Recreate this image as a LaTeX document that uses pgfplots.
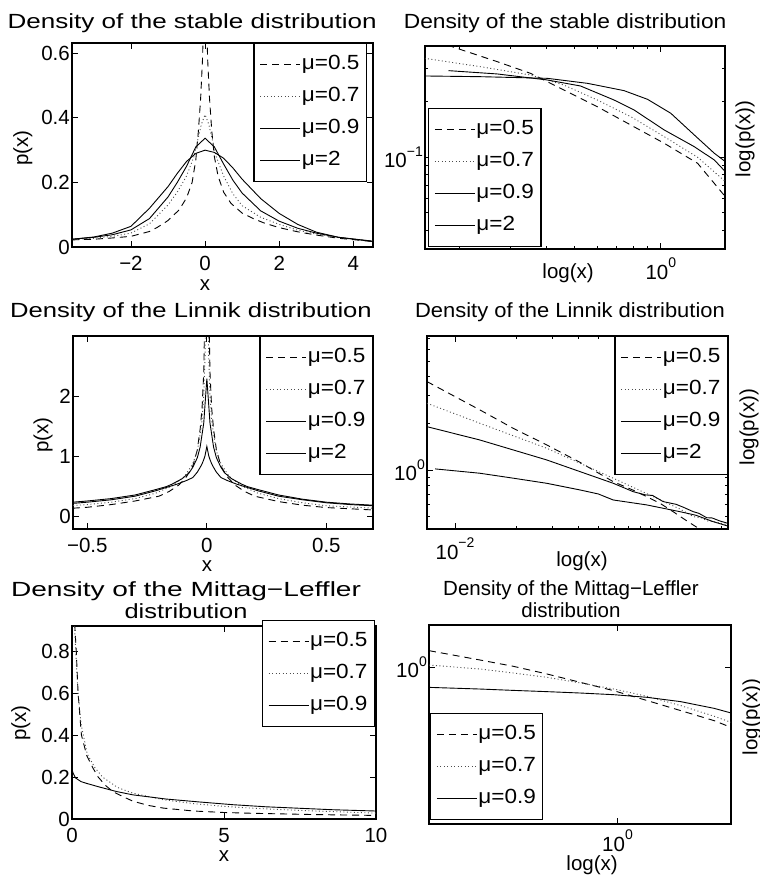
\documentclass[border=0pt]{standalone}
\usepackage{fontspec}
\setmainfont{Liberation Sans}
\newfontfamily\tA[FakeStretch=1.27]{Liberation Sans}
\newfontfamily\tB[FakeStretch=1.11]{Liberation Sans}
\newfontfamily\tC[FakeStretch=1.25]{Liberation Sans}
\newfontfamily\tD[FakeStretch=1.07]{Liberation Sans}
\newfontfamily\tE[FakeStretch=1.37]{Liberation Sans}
\newfontfamily\tL[FakeStretch=1.24]{Liberation Sans}
\newfontfamily\legfont[FakeStretch=1.1]{Liberation Sans}
\usepackage{pgfplots}
\pgfplotsset{compat=1.18}

\newcommand\fs{\fontsize{20.5}{22}\selectfont}
\newcommand\sps[1]{\raisebox{0.55em}{\fontsize{14}{14}\selectfont #1}}

\pgfplotsset{
  mat/.style={
    scale only axis, anchor=south west,
    axis line style={line width=1.1pt},
    tick style={black, line width=0.8pt},
    tick align=inside, tick pos=both,
    major tick length=6pt, minor tick length=3pt,
    tick label style={font=\fs, inner sep=2pt},
    xticklabel style={yshift=-7pt},
    every axis title/.style={inner sep=0pt, anchor=base},
    label style={font=\fs, inner sep=0pt},
    legend style={draw=black, line width=1.1pt, font=\legfont\fs,
      inner xsep=6pt, inner ysep=11pt, row sep=12pt,
      nodes={inner sep=1pt, text height=14pt, text depth=4pt}},
    legend cell align=left,
    legend image code/.code={\draw[#1, line width=0.9pt] (0pt,0pt) -- (40pt,0pt);},
  },
  m05/.style={black, line width=0.9pt, dash pattern=on 7pt off 5pt},
  m07/.style={black!70, line width=0.9pt, dash pattern=on 1pt off 2.5pt},
  m09/.style={black, line width=0.9pt},
  m2/.style={black, line width=0.9pt},
}

\begin{document}
\begin{tikzpicture}
\path[use as bounding box] (0pt,0pt) rectangle (760pt,884pt);

% ---------- stable, linear ----------
\begin{axis}[mat, at={(72pt,637pt)}, width=301pt, height=204pt,
  xmin=-3.59, xmax=4.53, ymin=0, ymax=0.632,
  xtick={-2,0,2,4}, xticklabels={−2,0,2,4},
  ytick={0,0.2,0.4,0.6}, yticklabels={0,0.2,0.4,0.6},
  title={Density of the stable distribution},
  title style={font=\tA\fs, at={(axis description cs:0.399,1.072)}},
  xlabel={x}, xlabel style={at={(axis description cs:0.442,-0.211)}, anchor=base},
  ylabel={p(x)}, ylabel style={at={(axis description cs:-0.163,0.485)}, anchor=center},
  legend style={at={(0.98,1)}, anchor=north east},
]
\addplot[m05] coordinates {(-3.59,0.022) (-3,0.024) (-2.5,0.028) (-2,0.033) (-1.5,0.048) (-1.3,0.06) (-1,0.082) (-0.7,0.115) (-0.5,0.152) (-0.35,0.2) (-0.25,0.27) (-0.18,0.36) (-0.12,0.46) (-0.07,0.58) (-0.04,0.7) (0,1.0) (0.04,0.7) (0.07,0.58) (0.12,0.46) (0.18,0.36) (0.25,0.28) (0.35,0.22) (0.5,0.17) (0.7,0.135) (1,0.105) (1.3,0.088) (1.6,0.074) (2,0.06) (2.5,0.047) (3,0.037) (3.6,0.027) (4.53,0.017)};
\addlegendentry{μ=0.5}
\addplot[m07] coordinates {(-3.59,0.023) (-3,0.027) (-2.5,0.033) (-2,0.043) (-1.5,0.072) (-1,0.13) (-0.75,0.17) (-0.5,0.22) (-0.3,0.28) (-0.2,0.33) (-0.1,0.38) (0,0.41) (0.1,0.38) (0.2,0.33) (0.3,0.28) (0.5,0.22) (0.75,0.165) (1,0.128) (1.5,0.092) (2,0.07) (2.5,0.052) (3,0.04) (3.6,0.029) (4.53,0.018)};
\addlegendentry{μ=0.7}
\addplot[m09] coordinates {(-3.59,0.024) (-3,0.03) (-2.5,0.038) (-2,0.053) (-1.5,0.088) (-1,0.155) (-0.75,0.2) (-0.5,0.25) (-0.25,0.31) (0,0.337) (0.25,0.31) (0.5,0.257) (0.75,0.207) (1,0.167) (1.5,0.112) (2,0.08) (2.5,0.058) (3,0.043) (3.6,0.03) (4.53,0.018)};
\addlegendentry{μ=0.9}
\addplot[m2] coordinates {(-3.59,0.024) (-3,0.031) (-2.5,0.043) (-2,0.064) (-1.5,0.12) (-1,0.187) (-0.75,0.228) (-0.5,0.265) (-0.25,0.29) (0,0.3) (0.25,0.293) (0.5,0.275) (0.75,0.245) (1,0.21) (1.5,0.15) (2,0.104) (2.5,0.07) (3,0.046) (3.6,0.03) (4.53,0.017)};
\addlegendentry{μ=2}
\end{axis}

% ---------- stable, log-log ----------
\begin{axis}[mat, at={(425pt,635pt)}, width=300pt, height=203pt,
  xmode=log, ymode=log,
  xmin=0.1516, xmax=1.671, ymin=0.0318, ymax=0.398,
  xtick={1}, xticklabels={10\sps{0}},
  ytick={0.1}, yticklabels={10\sps{−1}},
  minor xtick={0.2,0.3,0.4,0.5,0.6,0.7,0.8,0.9},
  minor ytick={0.04,0.05,0.06,0.07,0.08,0.09,0.2,0.3},
  title={Density of the stable distribution},
  title style={font=\tB\fs, at={(axis description cs:0.467,1.087)}},
  xlabel={log(x)}, xlabel style={at={(axis description cs:0.477,-0.143)}, anchor=base},
  ylabel={log(p(x))}, ylabel style={at={(axis description cs:1.067,0.542)}, anchor=center},
  legend style={at={(0.01,0.01)}, anchor=south west},
]
\addplot[m05] coordinates {(0.151,0.442) (0.27,0.3275) (0.352,0.2834) (0.46,0.2302) (0.601,0.1871) (0.786,0.1489) (1.027,0.1186) (1.342,0.0924) (1.675,0.061)};
\addlegendentry{μ=0.5}
\addplot[m07] coordinates {(0.151,0.3414) (0.236,0.3076) (0.352,0.2774) (0.46,0.2449) (0.601,0.2033) (0.786,0.1652) (1.027,0.1288) (1.342,0.0996) (1.675,0.0736)};
\addlegendentry{μ=0.7}
\addplot[m09] coordinates {(0.183,0.2928) (0.27,0.281) (0.403,0.2607) (0.526,0.2419) (0.687,0.2033) (0.807,0.1795) (1.027,0.14) (1.306,0.1137) (1.534,0.0963) (1.675,0.0833)};
\addlegendentry{μ=0.9}
\addplot[m2] coordinates {(0.151,0.274) (0.236,0.2716) (0.403,0.2661) (0.556,0.25) (0.745,0.2283) (0.899,0.2049) (1.083,0.1722) (1.306,0.1316) (1.534,0.1047) (1.675,0.0944)};
\addlegendentry{μ=2}
\end{axis}

% ---------- Linnik, linear ----------
\begin{axis}[mat, at={(73pt,355pt)}, width=300pt, height=193pt,
  xmin=-0.56, xmax=0.695, ymin=-0.217, ymax=3.0,
  xtick={-0.5,0,0.5}, xticklabels={−0.5,0,0.5},
  ytick={0,1,2}, yticklabels={0,1,2},
  title={Density of the Linnik distribution},
  title style={font=\tC\fs, at={(axis description cs:0.393,1.095)}},
  xlabel={x}, xlabel style={at={(axis description cs:0.447,-0.221)}, anchor=base},
  ylabel={p(x)}, ylabel style={at={(axis description cs:-0.1,0.487)}, anchor=center},
  legend style={at={(1,1)}, anchor=north east},
]
\addplot[m05] coordinates {(-0.56,0.13) (-0.5,0.145) (-0.4,0.19) (-0.3,0.25) (-0.2,0.33) (-0.157,0.41) (-0.116,0.52) (-0.086,0.65) (-0.059,0.83) (-0.04,1.1) (-0.028,1.45) (-0.02,1.8) (-0.013,2.4) (-0.0073,3.7) (0,10) (0.0073,3.7) (0.013,2.4) (0.02,1.8) (0.028,1.45) (0.04,1.1) (0.059,0.83) (0.086,0.65) (0.116,0.52) (0.157,0.41) (0.2,0.33) (0.3,0.24) (0.4,0.18) (0.5,0.14) (0.6,0.12) (0.695,0.1)};
\addlegendentry{μ=0.5}
\addplot[m07] coordinates {(-0.56,0.175) (-0.5,0.19) (-0.4,0.23) (-0.3,0.29) (-0.214,0.38) (-0.146,0.5) (-0.093,0.66) (-0.059,0.87) (-0.04,1.08) (-0.028,1.36) (-0.02,1.6) (-0.013,2.0) (-0.0073,2.7) (0,6) (0.0073,2.7) (0.013,2.0) (0.02,1.6) (0.028,1.36) (0.04,1.08) (0.059,0.87) (0.093,0.66) (0.146,0.5) (0.214,0.38) (0.3,0.29) (0.4,0.22) (0.5,0.17) (0.6,0.15) (0.695,0.13)};
\addlegendentry{μ=0.7}
\addplot[m09] coordinates {(-0.56,0.23) (-0.5,0.25) (-0.4,0.29) (-0.3,0.35) (-0.214,0.44) (-0.169,0.49) (-0.146,0.53) (-0.104,0.62) (-0.074,0.72) (-0.059,0.81) (-0.04,0.97) (-0.028,1.15) (-0.013,1.55) (-0.0073,1.88) (0,2.29) (0.0073,1.88) (0.013,1.55) (0.028,1.15) (0.04,0.97) (0.059,0.81) (0.074,0.72) (0.104,0.62) (0.146,0.53) (0.169,0.49) (0.214,0.44) (0.3,0.35) (0.4,0.28) (0.5,0.23) (0.6,0.2) (0.695,0.18)};
\addlegendentry{μ=0.9}
\addplot[m2] coordinates {(-0.56,0.21) (-0.5,0.23) (-0.4,0.27) (-0.3,0.33) (-0.214,0.42) (-0.182,0.46) (-0.125,0.53) (-0.086,0.59) (-0.059,0.64) (-0.04,0.73) (-0.028,0.81) (-0.019,0.88) (-0.013,0.94) (-0.008,1.0) (0,1.16) (0.008,1.0) (0.013,0.94) (0.019,0.88) (0.028,0.81) (0.04,0.73) (0.059,0.64) (0.086,0.59) (0.125,0.53) (0.182,0.46) (0.214,0.42) (0.3,0.33) (0.4,0.27) (0.5,0.22) (0.6,0.19) (0.695,0.17)};
\addlegendentry{μ=2}
\end{axis}

% ---------- Linnik, log-log ----------
\begin{axis}[mat, at={(427pt,355pt)}, width=301pt, height=193pt,
  xmode=log, ymode=log,
  xmin=0.0073, xmax=0.215, ymin=0.416, ymax=7.3,
  xtick={0.01}, xticklabels={10\sps{−2}},
  ytick={1}, yticklabels={10\sps{0}},
  minor xtick={0.02,0.03,0.04,0.05,0.06,0.07,0.08,0.09,0.1,0.2},
  minor ytick={0.5,0.6,0.7,0.8,0.9,2,3,4,5,6,7},
  title={Density of the Linnik distribution},
  title style={font=\tD\fs, at={(axis description cs:0.475,1.095)}},
  xlabel={log(x)}, xlabel style={at={(axis description cs:0.515,-0.195)}, anchor=base},
  ylabel={log(p(x))}, ylabel style={at={(axis description cs:1.07,0.528)}, anchor=center},
  legend style={at={(1,1)}, anchor=north east},
]
\addplot[m05] coordinates {(0.0073,3.71) (0.0132,2.44) (0.0193,1.85) (0.028,1.45) (0.0407,1.12) (0.0592,0.84) (0.0741,0.74) (0.0861,0.673) (0.1,0.61) (0.116,0.538) (0.135,0.47) (0.157,0.414) (0.18,0.37)};
\addlegendentry{μ=0.5}
\addplot[m07] coordinates {(0.0073,2.69) (0.0132,2.0) (0.028,1.38) (0.0592,0.884) (0.0927,0.673) (0.1253,0.56) (0.1455,0.5) (0.16,0.49) (0.17,0.47) (0.19,0.46) (0.214,0.442)};
\addlegendentry{μ=0.7}
\addplot[m09] coordinates {(0.0073,1.9) (0.0132,1.56) (0.028,1.16) (0.0592,0.82) (0.0741,0.724) (0.085,0.69) (0.092,0.685) (0.1037,0.625) (0.12,0.6) (0.13,0.575) (0.1455,0.538) (0.155,0.525) (0.169,0.492) (0.18,0.49) (0.195,0.47) (0.214,0.453)};
\addlegendentry{μ=0.9}
\addplot[m2] coordinates {(0.008,1.015) (0.0132,0.952) (0.0193,0.884) (0.028,0.82) (0.0407,0.743) (0.05,0.7) (0.0592,0.64) (0.0861,0.595) (0.1253,0.538) (0.15,0.51) (0.182,0.464) (0.214,0.435)};
\addlegendentry{μ=2}
\end{axis}

% ---------- Mittag-Leffler, linear ----------
\begin{axis}[mat, at={(72pt,65pt)}, width=304pt, height=193pt,
  xmin=0, xmax=10, ymin=0, ymax=0.919,
  xtick={0,5,10}, xticklabels={0,5,10},
  ytick={0,0.2,0.4,0.6,0.8}, yticklabels={0,0.2,0.4,0.6,0.8},
  title={Density of the Mittag−Leffler\\{\tL\fs distribution}},
  title style={font=\tE\fs, at={(axis description cs:0.375,1.035)}, anchor=south, align=center},
  xlabel={x}, xlabel style={at={(axis description cs:0.5,-0.221)}, anchor=base},
  ylabel={p(x)}, ylabel style={at={(axis description cs:-0.168,0.497)}, anchor=center},
  legend style={at={(0.997,1.031)}, anchor=north east},
]
\addplot[m05] coordinates {(0.01,1.5) (0.05,1.05) (0.1,0.9) (0.14,0.8) (0.2,0.6) (0.31,0.4) (0.49,0.3) (0.7,0.24) (0.86,0.2) (1.1,0.16) (1.35,0.13) (1.7,0.105) (2,0.085) (2.5,0.065) (3,0.052) (4,0.038) (5,0.031) (6,0.027) (7,0.024) (8,0.021) (9,0.019) (10,0.017)};
\addlegendentry{μ=0.5}
\addplot[m07] coordinates {(0.03,1.2) (0.06,1.0) (0.1,0.87) (0.15,0.72) (0.2,0.6) (0.3,0.45) (0.5,0.31) (0.75,0.245) (1,0.2) (1.5,0.15) (2,0.123) (3,0.092) (4,0.073) (5,0.06) (6,0.051) (7,0.044) (8,0.038) (9,0.033) (10,0.028)};
\addlegendentry{μ=0.7}
\addplot[m09] coordinates {(0,0.24) (0.03,0.22) (0.12,0.195) (0.3,0.178) (0.47,0.17) (0.91,0.152) (1.46,0.131) (2,0.115) (3.1,0.095) (4.2,0.081) (5.3,0.068) (6.4,0.058) (7.5,0.051) (8.6,0.044) (10,0.038)};
\addlegendentry{μ=0.9}
\end{axis}

% ---------- Mittag-Leffler, log-log ----------
\begin{axis}[mat, at={(429pt,60pt)}, width=302pt, height=199pt,
  xmode=log, ymode=log,
  xmin=0.2367, xmax=2.381, ymin=0.164, ymax=1.622,
  xtick={1}, xticklabels={10\sps{0}},
  xticklabel style={yshift=3pt},
  ytick={1}, yticklabels={10\sps{0}},
  title={Density of the Mittag−Leffler\\distribution},
  title style={font=\fs, at={(axis description cs:0.47,1.035)}, anchor=south, align=center},
  xlabel={log(x)}, xlabel style={at={(axis description cs:0.54,-0.236)}, anchor=base},
  ylabel={log(p(x))}, ylabel style={at={(axis description cs:1.07,0.538)}, anchor=center},
  legend style={at={(0.003,0.02)}, anchor=south west},
]
\addplot[m05] coordinates {(0.2367,1.207) (0.3495,1.084) (0.451,1.008) (0.583,0.923) (0.753,0.838) (0.972,0.761) (1.256,0.679) (1.622,0.605) (2.094,0.539) (2.381,0.499)};
\addlegendentry{μ=0.5}
\addplot[m07] coordinates {(0.2367,1.023) (0.3495,0.977) (0.451,0.933) (0.583,0.888) (0.753,0.832) (0.972,0.776) (1.256,0.713) (1.622,0.641) (2.094,0.567) (2.381,0.529)};
\addlegendentry{μ=0.7}
\addplot[m09] coordinates {(0.2367,0.791) (0.3495,0.776) (0.451,0.764) (0.583,0.753) (0.753,0.741) (0.972,0.727) (1.256,0.705) (1.622,0.671) (2.094,0.621) (2.381,0.589)};
\addlegendentry{μ=0.9}
\end{axis}
\end{tikzpicture}
\end{document}
